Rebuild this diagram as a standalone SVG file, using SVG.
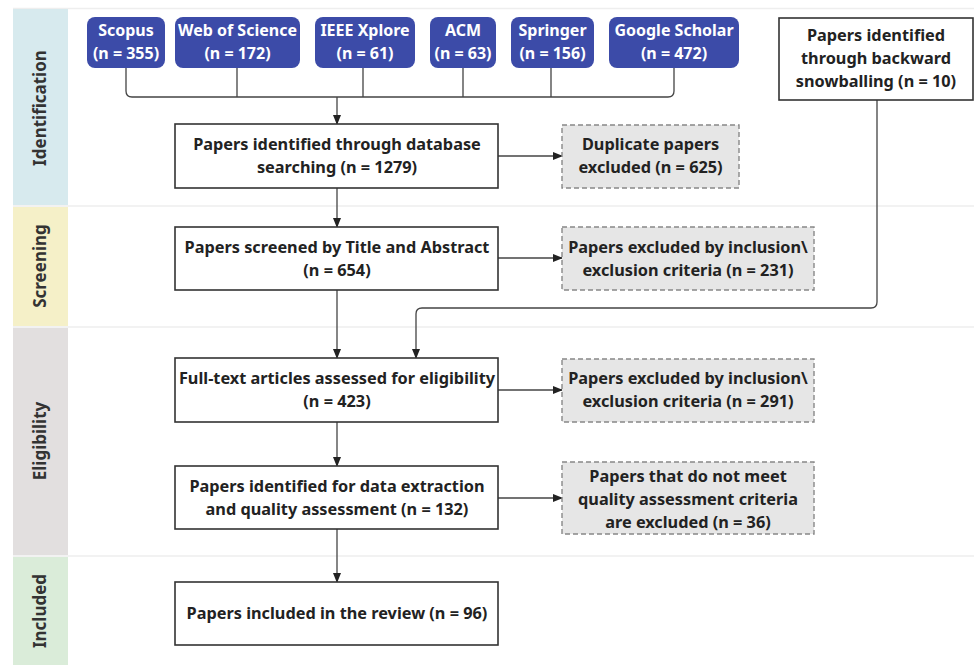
<svg xmlns="http://www.w3.org/2000/svg" width="974" height="665" viewBox="0 0 974 665">
<defs>
<style>
text{font-family:"Noto Sans","Open Sans","DejaVu Sans",sans-serif;font-weight:bold;text-anchor:middle}
.db rect{fill:#3c4ba8;stroke:none}
.db text{fill:#fff;font-size:16px}
.main rect{fill:#fff;stroke:#333;stroke-width:1.6}
.main text{fill:#222;font-size:16.3px}
.ex rect{fill:#e6e6e6;stroke:#888;stroke-width:1.4;stroke-dasharray:5 3}
.ex text{fill:#222;font-size:16.3px}
.lane text{fill:#333;font-size:17px}
.sep{stroke:#eeeeee;stroke-width:1.5}
.conn path{fill:none;stroke:#444;stroke-width:1.3}
</style>
<marker id="ah" markerWidth="10" markerHeight="8" refX="9" refY="4" orient="auto" markerUnits="userSpaceOnUse">
<path d="M0,0 L10,4 L0,8 Z" fill="#222"/>
</marker>
</defs>
<rect x="0" y="0" width="974" height="665" fill="#fff"/>
<g id="lanes" class="lane">
<line class="sep" x1="13" y1="8.5" x2="974" y2="8.5"/>
<line class="sep" x1="13" y1="206" x2="974" y2="206"/>
<line class="sep" x1="13" y1="327" x2="974" y2="327"/>
<line class="sep" x1="13" y1="556" x2="974" y2="556"/>
<rect x="13" y="9" width="55" height="196" fill="#d7eaee"/>
<rect x="13" y="207" width="55" height="119" fill="#f5f0c8"/>
<rect x="13" y="328" width="55" height="227" fill="#e2dfdf"/>
<rect x="13" y="557" width="55" height="108" fill="#daecd9"/>
<text transform="translate(46,108) rotate(-90)">Identification</text>
<text transform="translate(46,266) rotate(-90)">Screening</text>
<text transform="translate(46,441) rotate(-90)">Eligibility</text>
<text transform="translate(46,611) rotate(-90)">Included</text>
</g>
<g id="connectors" class="conn">
<path d="M126,68 V91 Q126,97 132,97 H668 Q674,97 674,91 V68"/>
<path d="M237,68 V97 M363,68 V97 M463,68 V97 M551,68 V97"/>
<path d="M337,97 V124" marker-end="url(#ah)"/>
<path d="M498,156 H562" marker-end="url(#ah)"/>
<path d="M337,188 V227" marker-end="url(#ah)"/>
<path d="M498,258 H562" marker-end="url(#ah)"/>
<path d="M337,290 V358" marker-end="url(#ah)"/>
<path d="M877,100 V302 Q877,308 871,308 H422 Q416,308 416,314 V358" marker-end="url(#ah)"/>
<path d="M498,390 H562" marker-end="url(#ah)"/>
<path d="M337,422 V466" marker-end="url(#ah)"/>
<path d="M498,498 H562" marker-end="url(#ah)"/>
<path d="M337,529 V582" marker-end="url(#ah)"/>
</g>
<g id="scopus" class="db"><rect x="87" y="17" width="78" height="51" rx="8"/><text x="126" y="36">Scopus</text><text x="126" y="59">(n = 355)</text></g>
<g id="wos" class="db"><rect x="175" y="17" width="125" height="51" rx="8"/><text x="237.5" y="36">Web of Science</text><text x="237.5" y="59">(n = 172)</text></g>
<g id="ieee" class="db"><rect x="315" y="17" width="100" height="51" rx="8"/><text x="365" y="36">IEEE Xplore</text><text x="365" y="59">(n = 61)</text></g>
<g id="acm" class="db"><rect x="430" y="17" width="66" height="51" rx="8"/><text x="463" y="36">ACM</text><text x="463" y="59">(n = 63)</text></g>
<g id="springer" class="db"><rect x="511" y="17" width="83" height="51" rx="8"/><text x="552.5" y="36">Springer</text><text x="552.5" y="59">(n = 156)</text></g>
<g id="google" class="db"><rect x="609" y="17" width="130" height="51" rx="8"/><text x="674" y="36">Google Scholar</text><text x="674" y="59">(n = 472)</text></g>
<g id="snowball" class="main"><rect x="779" y="18" width="194" height="82"/><text x="876" y="41">Papers identified</text><text x="876" y="64">through backward</text><text x="876" y="87">snowballing (n = 10)</text></g>
<g id="identified" class="main"><rect x="175" y="124" width="323" height="64"/><text x="337" y="150">Papers identified through database</text><text x="337" y="173">searching (n = 1279)</text></g>
<g id="duplicates" class="ex"><rect x="562" y="125" width="177" height="63"/><text x="650.5" y="150">Duplicate papers</text><text x="650.5" y="173">excluded (n = 625)</text></g>
<g id="screened" class="main"><rect x="175" y="227" width="323" height="63"/><text x="337" y="253">Papers screened by Title and Abstract</text><text x="337" y="276">(n = 654)</text></g>
<g id="excl1" class="ex"><rect x="562" y="227" width="252" height="63"/><text x="688" y="253">Papers excluded by inclusion\</text><text x="688" y="276">exclusion criteria (n = 231)</text></g>
<g id="fulltext" class="main"><rect x="175" y="358" width="323" height="64"/><text x="337" y="384">Full-text articles assessed for eligibility</text><text x="337" y="407">(n = 423)</text></g>
<g id="excl2" class="ex"><rect x="562" y="359" width="252" height="63"/><text x="688" y="384">Papers excluded by inclusion\</text><text x="688" y="407">exclusion criteria (n = 291)</text></g>
<g id="extraction" class="main"><rect x="175" y="466" width="323" height="63"/><text x="337" y="492">Papers identified for data extraction</text><text x="337" y="515">and quality assessment (n = 132)</text></g>
<g id="quality" class="ex"><rect x="562" y="462" width="252" height="72"/><text x="688" y="482">Papers that do not meet</text><text x="688" y="505">quality assessment criteria</text><text x="688" y="528">are excluded (n = 36)</text></g>
<g id="included" class="main"><rect x="175" y="582" width="323" height="63"/><text x="337" y="619">Papers included in the review (n = 96)</text></g>
</svg>
